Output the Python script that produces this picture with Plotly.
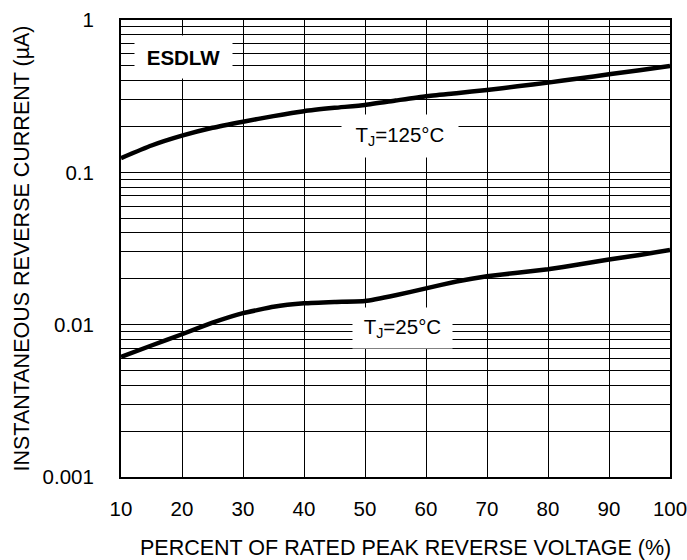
import plotly.graph_objects as go

# Data
x_pct = [10, 15, 20, 25, 30, 35, 40, 45, 50, 55, 60, 65, 70, 75, 80, 85, 90, 95, 100]
i_125 = [0.124, 0.150, 0.174, 0.196, 0.215, 0.234, 0.252, 0.265, 0.277, 0.296, 0.316, 0.331, 0.347, 0.367, 0.388, 0.413, 0.440, 0.468, 0.499]
i_25 = [0.00615, 0.0073, 0.00865, 0.0103, 0.0119, 0.0131, 0.0138, 0.0141, 0.0143, 0.0156, 0.0173, 0.0192, 0.0208, 0.0219, 0.0231, 0.0248, 0.0268, 0.0287, 0.0309]
x_ticks = [10, 20, 30, 40, 50, 60, 70, 80, 90, 100]
y_major = [0.001, 0.01, 0.1, 1]
y_major_text = ["0.001", "0.01", "0.1", "1"]

y_tickvals = []
y_ticktext = []
for d in [0.001, 0.01, 0.1]:
    for m in range(1, 10):
        v = round(m * d, 6)
        y_tickvals.append(v)
        y_ticktext.append(y_major_text[y_major.index(d)] if m == 1 else "")
y_tickvals.append(1)
y_ticktext.append("1")

FONT = "Liberation Sans, Arial, sans-serif"
FS = 20.5
FT = 21.5

fig = go.Figure()
fig.add_trace(go.Scatter(x=x_pct, y=i_125, mode="lines", line=dict(color="black", width=4.5, shape="spline", smoothing=0.5), showlegend=False, hoverinfo="skip"))
fig.add_trace(go.Scatter(x=x_pct, y=i_25, mode="lines", line=dict(color="black", width=4.5, shape="spline", smoothing=0.3), showlegend=False, hoverinfo="skip"))

fig.update_layout(
    width=687, height=560,
    margin=dict(l=121, r=17, t=20, b=83),
    paper_bgcolor="white", plot_bgcolor="white",
    font=dict(family=FONT, size=FS, color="black"),
    xaxis=dict(
        range=[10, 100], tickvals=x_ticks, ticktext=[str(v) for v in x_ticks],
        showgrid=True, gridcolor="black", gridwidth=1,
        showline=True, linecolor="black", linewidth=2, mirror=True,
        ticks="outside", ticklen=12, tickcolor="rgba(0,0,0,0)",
        zeroline=False, automargin=False, ticklabeloverflow="allow",
    ),
    yaxis=dict(
        type="log", range=[-3, 0], tickvals=y_tickvals, ticktext=y_ticktext,
        showgrid=True, gridcolor="black", gridwidth=1,
        showline=True, linecolor="black", linewidth=2, mirror=True,
        ticks="outside", ticklen=21, tickcolor="rgba(0,0,0,0)",
        zeroline=False, automargin=False,
    ),
)

# axis titles
fig.add_annotation(x=56.7, y=0, xref="x", yref="paper", yshift=-71, yanchor="middle",
                   text="PERCENT OF RATED PEAK REVERSE VOLTAGE (%)", showarrow=False,
                   font=dict(size=FT, family=FONT))
fig.add_annotation(x=0, y=0.5, xref="paper", yref="paper", xshift=-100, xanchor="center",
                   textangle=-90, text="INSTANTANEOUS REVERSE CURRENT (µA)", showarrow=False,
                   font=dict(size=FT, family=FONT))

# in-plot labels
fig.add_annotation(x=20.2, y=-0.243, xref="x", yref="y", text="<b>ESDLW</b>",
                   showarrow=False, bgcolor="white", width=95, height=40,
                   font=dict(size=FS, family=FONT))
fig.add_annotation(x=55.8, y=-0.762, xref="x", yref="y", text="T<sub>J</sub>=125°C",
                   showarrow=False, bgcolor="white", width=114, height=40,
                   font=dict(size=FS, family=FONT))
fig.add_annotation(x=56.2, y=-2.022, xref="x", yref="y", text="T<sub>J</sub>=25°C",
                   showarrow=False, bgcolor="white", width=97, height=38,
                   font=dict(size=FS, family=FONT))

fig.write_html("out.html", config={"displayModeBar": False},
               post_script="document.body.style.margin='0';document.body.style.overflow='hidden';")
